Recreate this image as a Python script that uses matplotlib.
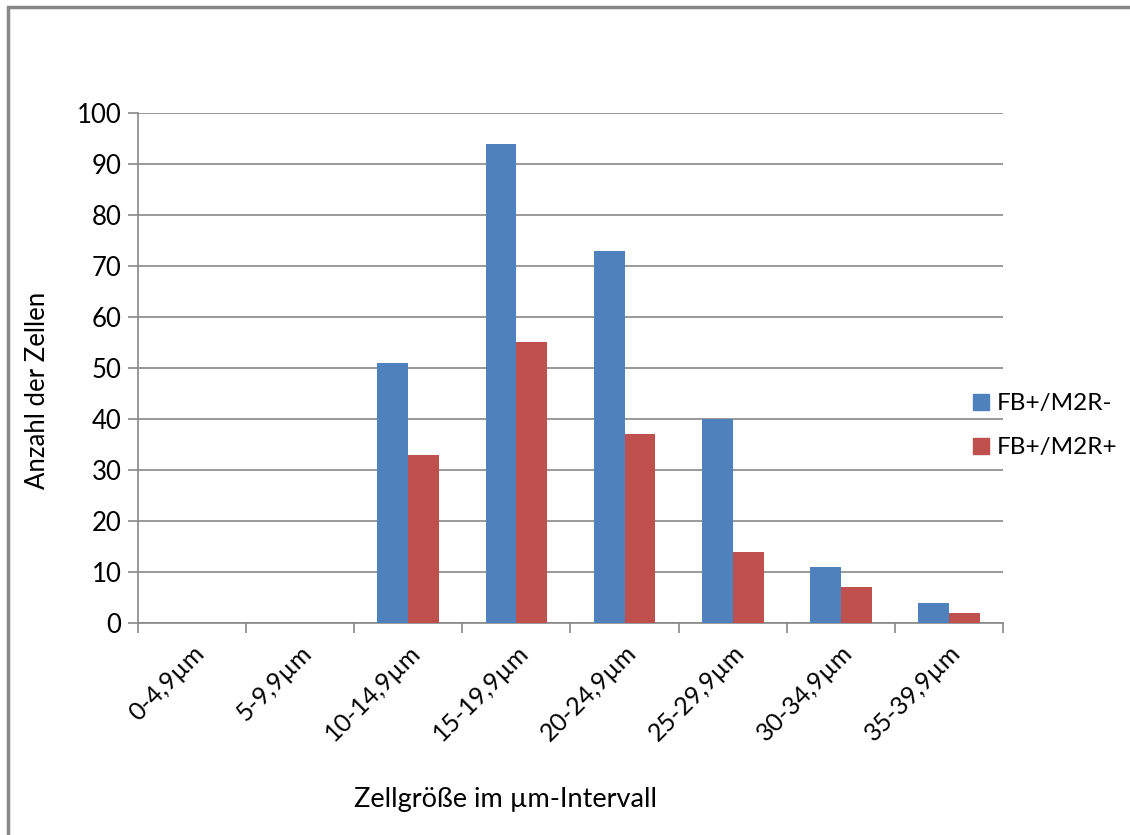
import matplotlib.pyplot as plt
from matplotlib.patches import Rectangle, Patch
import numpy as np

# data
categories = ["0-4,9µm", "5-9,9µm", "10-14,9µm", "15-19,9µm",
              "20-24,9µm", "25-29,9µm", "30-34,9µm", "35-39,9µm"]
fb_m2r_neg = [0, 0, 51, 94, 73, 40, 11, 4]
fb_m2r_pos = [0, 0, 33, 55, 37, 14, 7, 2]
series_names = ["FB+/M2R-", "FB+/M2R+"]

plt.rcParams['font.family'] = ['Lato', 'DejaVu Sans']

fig = plt.figure(figsize=(11.3, 8.35), dpi=100)
ax = fig.add_axes([0.1221, 0.2539, 0.7655, 0.6108])

x = np.arange(len(categories))
w = 0.2857
ax.bar(x - w/2, fb_m2r_neg, width=w, color="#4F81BD", zorder=3)
ax.bar(x + w/2, fb_m2r_pos, width=w, color="#C0504D", zorder=3)

ax.set_xlim(-0.5, len(categories) - 0.5)
ax.set_ylim(0, 100)
ax.set_yticks(range(0, 101, 10))
ax.grid(axis="y", color="#888888", linewidth=1.2, zorder=0)

# category tick marks sit between the groups
ax.set_xticks(np.arange(-0.5, len(categories)), minor=False)
ax.set_xticklabels([])
ax.set_xticks(x, minor=True)
ax.set_xticklabels(categories, minor=True, rotation=45, ha="right",
                   rotation_mode="anchor", fontsize=18)
ax.tick_params(axis="x", which="minor", length=0, pad=13)
ax.tick_params(axis="x", which="major", length=7, width=1.2, color="#888888")
ax.tick_params(axis="y", length=7, width=1.2, color="#888888", labelsize=18.5, pad=5)

for s in ["top", "right"]:
    ax.spines[s].set_visible(False)
for s in ["left", "bottom"]:
    ax.spines[s].set_color("#888888")
    ax.spines[s].set_linewidth(1.2)

fig.text(0.033, 0.532, "Anzahl der Zellen", rotation=90, ha="center", va="center", fontsize=18.5)
fig.text(0.447, 0.042, "Zellgröße im µm-Intervall", ha="center", va="center", fontsize=19.5)

handles = [Patch(color="#4F81BD"), Patch(color="#C0504D")]
fig.legend(handles, series_names, loc="center left", bbox_to_anchor=(0.842, 0.49),
           frameon=False, fontsize=17.5, handlelength=0.65, handleheight=0.65,
           handletextpad=0.3, labelspacing=0.95)

# outer chart frame
fig.patches.append(Rectangle((0.007, -0.1), 1.1, 1.092, transform=fig.transFigure,
                             fill=False, edgecolor="#888888", linewidth=2.5))

plt.savefig("out.png", dpi=100)
